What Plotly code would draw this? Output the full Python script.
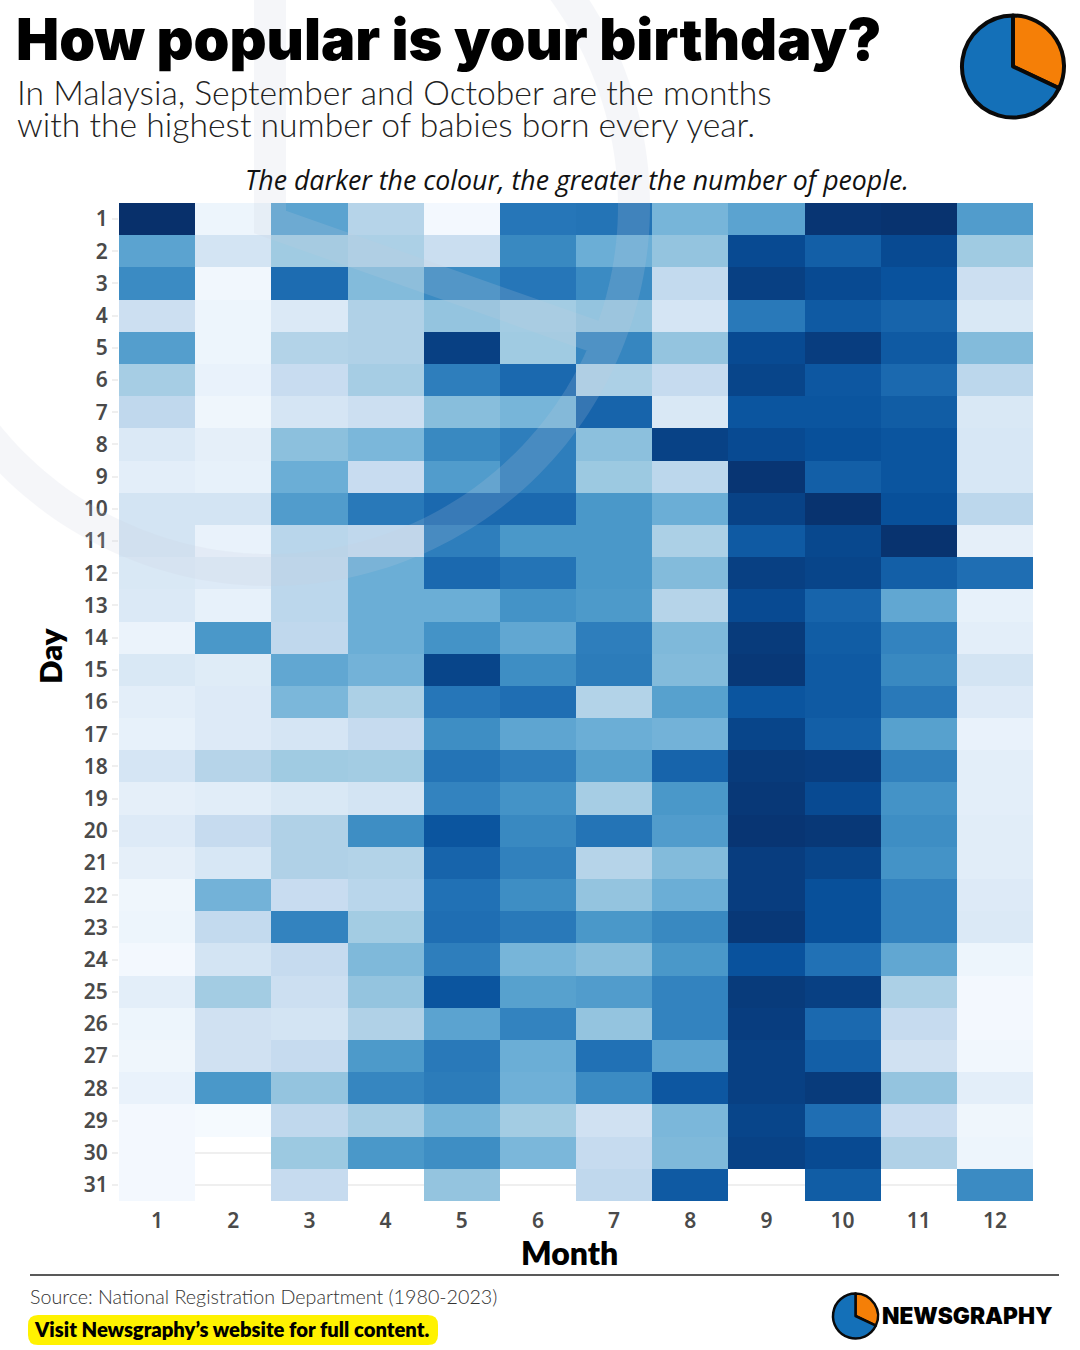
import numpy as np
import plotly.graph_objects as go

WIDTH, HEIGHT = 1080, 1350

months = list(range(1, 13))
days = list(range(1, 32))

# Relative birth counts per calendar day, one list per day of the month, January to December.
day_01 = [100, 5, 55, 30, 2, 73, 74, 47, 55, 98, 99, 58]
day_02 = [55, 18, 37, 33, 23, 66, 50, 40, 90, 82, 90, 37]
day_03 = [65, 3, 77, 44, 65, 73, 65, 26, 94, 90, 87, 22]
day_04 = [22, 5, 14, 32, 40, 36, 40, 17, 72, 84, 80, 15]
day_05 = [57, 5, 31, 32, 94, 37, 67, 40, 90, 95, 84, 44]
day_06 = [35, 7, 24, 35, 70, 78, 33, 25, 92, 85, 78, 28]
day_07 = [27, 4, 17, 22, 43, 47, 80, 15, 86, 86, 83, 15]
day_08 = [14, 9, 42, 46, 66, 70, 42, 93, 90, 88, 86, 16]
day_09 = [10, 8, 50, 24, 58, 70, 38, 28, 98, 82, 86, 16]
day_10 = [18, 18, 58, 72, 78, 78, 60, 50, 93, 99, 88, 28]
day_11 = [18, 7, 29, 27, 70, 60, 60, 33, 84, 91, 99, 9]
day_12 = [15, 13, 28, 50, 78, 74, 60, 44, 94, 92, 82, 76]
day_13 = [14, 8, 28, 50, 50, 62, 59, 30, 90, 80, 53, 8]
day_14 = [6, 60, 27, 50, 62, 53, 70, 45, 96, 83, 68, 10]
day_15 = [15, 12, 53, 48, 92, 64, 71, 44, 97, 84, 66, 18]
day_16 = [10, 13, 46, 33, 73, 76, 31, 56, 86, 84, 72, 13]
day_17 = [8, 13, 17, 25, 64, 54, 50, 48, 92, 82, 56, 7]
day_18 = [17, 30, 37, 36, 74, 70, 56, 80, 96, 95, 69, 10]
day_19 = [9, 11, 15, 18, 68, 62, 35, 60, 97, 90, 62, 10]
day_20 = [13, 25, 32, 64, 86, 66, 74, 58, 98, 97, 64, 11]
day_21 = [9, 16, 32, 31, 80, 69, 30, 44, 95, 92, 62, 11]
day_22 = [4, 48, 24, 29, 75, 64, 40, 50, 95, 88, 68, 13]
day_23 = [5, 26, 68, 36, 76, 72, 60, 66, 97, 88, 68, 14]
day_24 = [2, 18, 25, 45, 70, 47, 43, 60, 87, 75, 53, 5]
day_25 = [10, 36, 22, 40, 86, 56, 58, 68, 96, 94, 33, 2]
day_26 = [5, 20, 18, 32, 55, 68, 40, 68, 95, 78, 25, 2]
day_27 = [4, 20, 25, 59, 72, 50, 75, 55, 94, 82, 20, 3]
day_28 = [7, 60, 40, 67, 71, 49, 65, 85, 94, 96, 40, 10]
day_29 = [2, 1, 27, 35, 47, 36, 20, 46, 92, 76, 24, 4]
day_30 = [2, None, 38, 60, 64, 46, 25, 45, 93, 90, 32, 5]
day_31 = [2, None, 25, None, 40, None, 27, 84, None, 83, None, 65]

logo_shares = [32, 68]
logo_colours = ["#F57F07", "#1470B8"]

blues = ["#f7fbff", "#deebf7", "#c6dbef", "#9ecae1", "#6baed6",
         "#4292c6", "#2171b5", "#08519c", "#08306b"]
colorscale = [[i / 8, c] for i, c in enumerate(blues)]


def px(x):
    return x / WIDTH


def py(y):
    return 1 - y / HEIGHT


def label(text, x, y, size, colour="#000", family="Lato", weight=400, anchor="left", style="normal", angle=0):
    return dict(text=text, x=px(x), y=py(y), xref="paper", yref="paper", xanchor=anchor, yanchor="middle",
                showarrow=False, textangle=angle,
                font=dict(family=family, size=size, color=colour, weight=weight, style=style))


def logo(cx, cy, r, line):
    return go.Pie(values=logo_shares, sort=False, direction="clockwise", rotation=0,
                  domain=dict(x=[px(cx - r), px(cx + r)], y=[py(cy + r), py(cy - r)]),
                  marker=dict(colors=logo_colours, line=dict(color="#0a0a0a", width=line)),
                  textinfo="none", hoverinfo="skip", showlegend=False)


def watermark_path():
    # Outline of the pie emblem: a ring plus its two spokes, drawn as one stroked path.
    cx, cy, r = 270, 206, 364
    hub_y = 222
    angles = np.linspace(0, 2 * np.pi, 241)
    ring = [(cx + r * np.cos(a), cy + r * np.sin(a)) for a in angles]
    top = (cx, cy - r)
    theta = np.arctan(0.40)
    edge = (cx + r * np.cos(theta), hub_y + r * np.sin(theta) - 16)
    fmt = lambda p: f"{px(p[0]):.5f},{py(p[1]):.5f}"
    path = "M" + " L".join(fmt(p) for p in ring) + " Z"
    path += f" M{fmt(top)} L{fmt((cx, hub_y))} L{fmt(edge)}"
    return path


heat = go.Heatmap(
    z=[day_01, day_02, day_03, day_04, day_05, day_06, day_07, day_08, day_09, day_10,
       day_11, day_12, day_13, day_14, day_15, day_16, day_17, day_18, day_19, day_20,
       day_21, day_22, day_23, day_24, day_25, day_26, day_27, day_28, day_29, day_30, day_31],
    x=months, y=days, colorscale=colorscale, zmin=0, zmax=100, showscale=False,
    hoverongaps=False,
)

fig = go.Figure([heat, logo(1013, 66.5, 51, 4), logo(855.5, 1316, 22.5, 2.5)])

tick_font = dict(family="Noto Sans", size=21, color="#4a4a4a", weight=600)
fig.update_layout(
    width=WIDTH, height=HEIGHT, autosize=False,
    margin=dict(l=0, r=0, t=0, b=0),
    paper_bgcolor="white", plot_bgcolor="white",
    xaxis=dict(domain=[px(119), px(1033)], range=[0.5, 12.5], tickmode="array", tickvals=months,
               showgrid=False, zeroline=False, ticks="", tickfont=tick_font, ticklabelstandoff=5),
    yaxis=dict(domain=[py(1201), py(203)], range=[31.5, 0.5], tickmode="array", tickvals=days,
               showgrid=True, gridcolor="#efefef", gridwidth=2, zeroline=False,
               ticks="outside", ticklen=6, tickcolor="#efefef", tickwidth=2, tickfont=tick_font),
    shapes=[
        dict(type="path", xref="paper", yref="paper", path=watermark_path(),
             line=dict(color="rgb(200,206,222)", width=32), opacity=0.17, layer="above"),
        dict(type="line", xref="paper", yref="paper", x0=px(30), x1=px(1059), y0=py(1275), y1=py(1275),
             line=dict(color="#222", width=1.5)),
        dict(type="path", xref="paper", yref="paper", fillcolor="#FFF200", line=dict(width=0),
             path=(f"M{px(38)},{py(1315)} L{px(428)},{py(1315)} Q{px(438)},{py(1315)} {px(438)},{py(1325)} "
                   f"L{px(438)},{py(1335)} Q{px(438)},{py(1345)} {px(428)},{py(1345)} "
                   f"L{px(38)},{py(1345)} Q{px(28)},{py(1345)} {px(28)},{py(1335)} "
                   f"L{px(28)},{py(1325)} Q{px(28)},{py(1315)} {px(38)},{py(1315)} Z")),
    ],
    annotations=[
        label("How popular is your birthday?", 14, 39, 57.5, family="Inter", weight=900),
        label("In Malaysia, September and October are the months", 15, 92, 33.7, "#222", weight=300),
        label("with the highest number of babies born every year.", 15, 124, 33.7, "#222", weight=300),
        label("The darker the colour, the greater the number of people.", 243, 180, 26.7, "#111",
              family="Open Sans", style="italic", weight=400),
        label("Month", 569, 1252, 32, weight=800, anchor="center"),
        label("Day", 50, 656, 31, weight=800, anchor="center", angle=-90),
        label("Source: National Registration Department (1980-2023)", 28, 1296, 19.7, "#333", weight=300),
        label("Visit Newsgraphy’s website for full content.", 32, 1329, 20.2, weight=800),
        label("NEWSGRAPHY", 880, 1315, 22.7, family="Inter", weight=900),
    ],
)

fig.write_html("out.html")
